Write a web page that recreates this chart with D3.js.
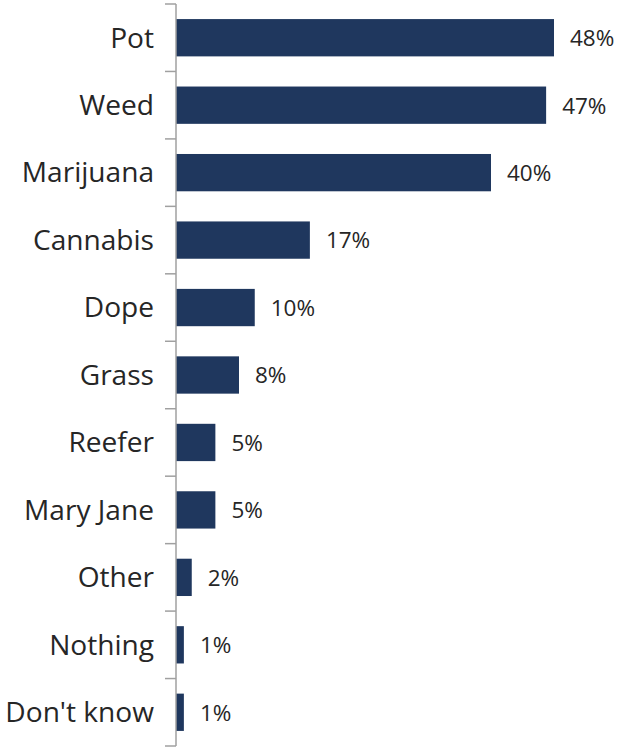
<!DOCTYPE html>
<html>
<head>
<meta charset="utf-8">
<script src="https://cdn.jsdelivr.net/npm/d3@7"></script>
<style>
  html, body { margin: 0; padding: 0; background: #fff; }
  svg { display: block; }
</style>
</head>
<body>
<svg id="chart" width="619" height="748"></svg>
<script>
const categories = ["Pot", "Weed", "Marijuana", "Cannabis", "Dope", "Grass", "Reefer", "Mary Jane", "Other", "Nothing", "Don't know"];
const values = [48, 47, 40, 17, 10, 8, 5, 5, 2, 1, 1];

const svg = d3.select("#chart");
const axisX = 176;
const font = "'Open Sans', sans-serif";

const x = d3.scaleLinear().domain([0, 48]).range([axisX, 554]);
const y = d3.scaleBand().domain(categories).range([4, 746]).paddingInner(0.447).paddingOuter(0.2235);

// bars
svg.append("g").selectAll("rect")
  .data(categories)
  .join("rect")
  .attr("x", x(0))
  .attr("y", d => y(d))
  .attr("width", (d, i) => x(values[i]) - x(0))
  .attr("height", y.bandwidth())
  .attr("fill", "#1f375e");

// category axis with ticks at band boundaries
const g = svg.append("g");
g.append("line")
  .attr("x1", axisX).attr("x2", axisX)
  .attr("y1", 4).attr("y2", 746)
  .attr("stroke", "#a0a0a0").attr("stroke-width", 1.5);
const bounds = d3.range(categories.length + 1).map(i => 4 + i * y.step());
g.selectAll("line.tick")
  .data(bounds)
  .join("line")
  .attr("class", "tick")
  .attr("x1", axisX - 11).attr("x2", axisX)
  .attr("y1", d => d).attr("y2", d => d)
  .attr("stroke", "#a0a0a0").attr("stroke-width", 1.5);

g.selectAll("text.cat")
  .data(categories)
  .join("text")
  .attr("class", "cat")
  .attr("x", axisX - 22)
  .attr("y", d => y(d) + y.bandwidth() / 2)
  .attr("dy", "0.35em")
  .attr("text-anchor", "end")
  .attr("font-family", font)
  .attr("font-size", 28.1)
  .attr("fill", "#262626")
  .text(d => d);

// value labels
svg.append("g").selectAll("text")
  .data(categories)
  .join("text")
  .attr("x", (d, i) => x(values[i]) + 16)
  .attr("y", d => y(d) + y.bandwidth() / 2)
  .attr("dy", "0.37em")
  .attr("font-family", font)
  .attr("font-size", 22.5)
  .attr("fill", "#262626")
  .text((d, i) => values[i] + "%");
</script>
</body>
</html>
